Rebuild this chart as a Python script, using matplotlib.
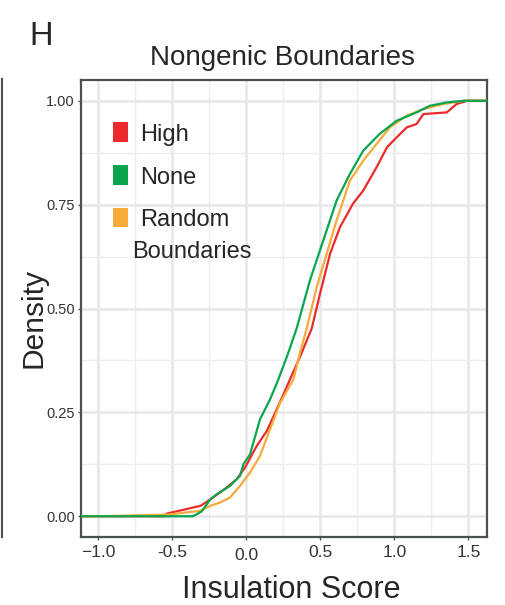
import matplotlib
matplotlib.use("Agg")
import matplotlib.pyplot as plt
from matplotlib.lines import Line2D
from matplotlib.patches import Rectangle

plt.rcParams['font.family'] = ['Liberation Sans', 'DejaVu Sans']

# cumulative curves (insulation score, fraction)
high_x = [-0.99, -0.55, -0.54, -0.31, -0.245, -0.133, -0.065, -0.009, 0.07, 0.138, 0.205,
          0.295, 0.37, 0.442, 0.498, 0.566, 0.633, 0.72, 0.79, 0.88, 0.95, 1.016, 1.084,
          1.15, 1.196, 1.354, 1.42, 1.49]
high_y = [0.0, 0.0, 0.006, 0.025, 0.04, 0.069, 0.089, 0.117, 0.169, 0.205, 0.257,
          0.329, 0.39, 0.452, 0.536, 0.632, 0.696, 0.752, 0.784, 0.84, 0.888, 0.912, 0.936,
          0.944, 0.968, 0.972, 0.992, 1.0]

none_x = [-0.99, -0.36, -0.3, -0.245, -0.2, -0.11, -0.043, -0.02, 0.025, 0.092, 0.16,
          0.216, 0.28, 0.34, 0.43, 0.52, 0.61, 0.70, 0.79, 0.90, 1.016, 1.15, 1.24,
          1.354, 1.47]
none_y = [0.0, 0.0, 0.012, 0.04, 0.053, 0.073, 0.097, 0.125, 0.149, 0.233, 0.281,
          0.329, 0.39, 0.452, 0.568, 0.664, 0.76, 0.824, 0.88, 0.92, 0.952, 0.972, 0.988,
          0.996, 1.0]

rand_x = [-0.99, -0.53, -0.313, -0.245, -0.178, -0.11, -0.043, 0.025, 0.092, 0.16, 0.228,
          0.318, 0.36, 0.408, 0.476, 0.543, 0.61, 0.70, 0.79, 0.88, 0.97, 1.084, 1.196,
          1.33, 1.47]
rand_y = [0.0, 0.004, 0.013, 0.025, 0.033, 0.045, 0.073, 0.105, 0.145, 0.209, 0.273,
          0.329, 0.39, 0.452, 0.552, 0.632, 0.712, 0.808, 0.856, 0.896, 0.936, 0.964, 0.98,
          0.992, 1.0]

labels = ['High', 'None', 'Random\nBoundaries']
colors = ['#EC2A2C', '#0AA64D', '#F5AA3A']

x_ticks = [-1.0, -0.5, 0.0, 0.5, 1.0, 1.5]
x_ticklabels = ['\u22121.0', '-0.5', '0.0', '0.5', '1.0', '1.5']
y_ticks = [0.0, 0.25, 0.5, 0.75, 1.0]
y_ticklabels = ['0.00', '0.25', '0.50', '0.75', '1.00']

W, H = 505, 605
fig = plt.figure(figsize=(W / 100, H / 100), dpi=100)


def fx(px):
    return px / W


def fy(py):
    return 1 - py / H


ax = fig.add_axes([fx(81), fy(537), 406 / W, 457 / H])

xmin, xmax = -1.117, 1.626
for xs, ys, c in [(high_x, high_y, colors[0]), (rand_x, rand_y, colors[2]), (none_x, none_y, colors[1])]:
    # pad like stat_ecdf so the lines run to the panel edges
    ax.plot([xmin] + xs + [xmax], [0.0] + ys + [1.0], color=c, lw=1.6, zorder=3)

ax.set_xlim(xmin, xmax)
ax.set_ylim(-0.05, 1.05)
ax.set_xticks(x_ticks)
ax.set_xticklabels(x_ticklabels)
ax.set_yticks(y_ticks)
ax.set_yticklabels(y_ticklabels)
ax.set_xticks([-0.75, -0.25, 0.25, 0.75, 1.25], minor=True)
ax.set_yticks([0.125, 0.375, 0.625, 0.875], minor=True)

ax.grid(True, which='major', color='#E6E6EB', lw=1.8, zorder=0)
ax.grid(True, which='minor', color='#EDEDF0', lw=1.0, zorder=0)
ax.set_axisbelow(True)

for s in ax.spines.values():
    s.set_color('#4A5050')
    s.set_linewidth(1.6)

ax.tick_params(axis='y', which='major', length=2.5, width=1, color='#4A5050',
               labelsize=10.5, labelcolor='#333333', pad=2)
ax.tick_params(axis='x', which='major', length=2.5, width=1, color='#4A5050',
               labelsize=12.5, labelcolor='#333333', pad=3.5)
ax.tick_params(which='minor', length=0)
# the 0.0 label sits a little lower in the original
ax.get_xticklabels()[2].set_y(-0.006)

txt = '#262626'
fig.text(fx(291), fy(598), 'Insulation Score', fontsize=22, color=txt, ha='center', va='baseline')
fig.text(fx(42), fy(317.5), 'Density', fontsize=21.5, color=txt, rotation=90,
         rotation_mode='anchor', ha='center', va='baseline')
fig.text(fx(282.5), fy(65), 'Nongenic Boundaries', fontsize=20, color=txt, ha='center', va='baseline')
fig.text(fx(29), fy(45), 'H', fontsize=23.5, color=txt, ha='left', va='baseline')

# legend, drawn by hand so the key sits beside the first line of each label
for i, (lab, c) in enumerate(zip(labels, colors)):
    base = 141.5 + 42.5 * i
    fig.add_artist(Rectangle((fx(113), fy(base + 0.5)), 15 / W, 19.5 / H,
                             transform=fig.transFigure, facecolor=c, edgecolor='none'))
    for j, line in enumerate(lab.split('\n')):
        fig.text(fx(140.5 if j == 0 else 132), fy(base + 31 * j), line, fontsize=17,
                 color=txt, ha='left', va='baseline')

# edge of the neighbouring panel
fig.add_artist(Line2D([fx(1.5), fx(1.5)], [fy(79), fy(537)], color='#4A5050', lw=1.5))

fig.savefig('out.png', dpi=100)
